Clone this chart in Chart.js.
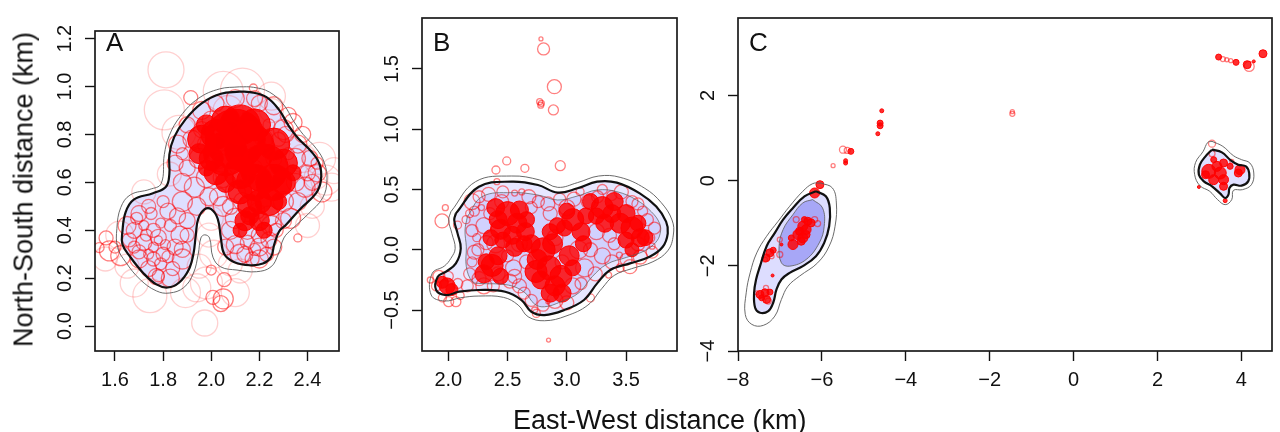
<!DOCTYPE html>
<html>
<head>
<meta charset="utf-8">
<script src="https://cdn.jsdelivr.net/npm/chart.js@4.4.1/dist/chart.umd.min.js"></script>
<style>
  body { margin: 0; background: #fff; }
  #wrap { position: relative; width: 1280px; height: 432px; background: #fff; overflow: hidden; }
  canvas { position: absolute; top: 0; }
  .title { position: absolute; font-family: "Liberation Sans", Arial, sans-serif; font-size: 27px; line-height: 27px; color: #111; white-space: nowrap; }
</style>
</head>
<body>
<div id="wrap">
  <canvas id="cA" width="370" height="432" style="left:0px"></canvas>
  <canvas id="cB" width="320" height="432" style="left:370px"></canvas>
  <canvas id="cC" width="590" height="432" style="left:690px"></canvas>
  <div class="title" id="xTitle" style="left:513px; top:407px;">East-West distance (km)</div>
  <div class="title" id="yTitle" style="left:-176px; top:176px; width:400px; text-align:center; transform:rotate(-90deg);">North-South distance (km)</div>
</div>
<script>
// ---- axis ticks ----
const aXTicks = [1.6, 1.8, 2.0, 2.2, 2.4];
const aYTicks = [0.0, 0.2, 0.4, 0.6, 0.8, 1.0, 1.2];
const bXTicks = [2.0, 2.5, 3.0, 3.5];
const bYTicks = [-0.5, 0.0, 0.5, 1.0, 1.5];
const cXTicks = [-8, -6, -4, -2, 0, 2, 4];
const cYTicks = [-4, -2, 0, 2];

// ---- panel A: open rings [x, y, r] and dense core ----
const aRings = [
  [1.812,1.070,18],[1.805,0.903,20],[1.915,0.954,7],[2.175,0.994,4],[2.130,0.985,22],
  [2.360,0.368,4],[1.534,0.328,5],[1.973,0.013,13],[2.040,0.094,8],[2.007,0.120,7],
  [2.050,0.114,10],[2.054,0.194,7],[2.000,0.234,5],[1.893,0.140,15],[1.745,0.127,17],
  [1.772,0.207,8],[2.510,0.649,13],[2.477,0.609,15],[2.436,0.622,12],[1.577,0.314,10],
  [1.563,0.368,7],[1.624,0.294,10],[1.826,0.635,12],[1.866,0.809,17],[2.070,0.900,15],
  [2.250,0.900,12],[2.300,0.820,10],[2.380,0.700,14],[2.420,0.500,12],[2.330,0.450,10],
  [2.260,0.330,8],[2.200,0.280,9],[2.120,0.300,10],[2.080,0.260,12],[2.010,0.300,14],
  [1.950,0.250,12],[1.880,0.280,10],[1.830,0.200,9],[1.700,0.280,9],[1.650,0.420,9],
  [1.700,0.470,8],[1.750,0.470,6],[1.820,0.480,8],[1.880,0.520,10],[1.900,0.440,8],
  [1.870,0.380,9],[1.760,0.400,7],[1.720,0.350,8],[1.800,0.300,7],[1.790,0.260,6],
  [1.850,0.330,8],[1.680,0.330,6],[1.600,0.330,6],[1.950,0.700,10],[1.900,0.660,8],
  [1.880,0.720,6],[1.920,0.780,9],[1.980,0.620,10],[1.990,0.540,9],[2.050,0.500,10],
  [2.100,0.450,10],[2.150,0.400,9],[2.200,0.380,8],[2.250,0.420,10],[2.300,0.520,10],
  [2.350,0.600,9],[2.400,0.640,8],[2.440,0.680,6],[2.380,0.800,8],[2.340,0.850,9],
  [2.200,0.930,8],[2.000,0.860,9],[1.960,0.820,8],[2.030,0.760,8],[2.150,0.350,7],
  [2.180,0.320,6],[2.100,0.560,10],[2.050,0.620,10],[2.000,0.450,12],[1.990,0.380,12],
  [2.120,0.230,12],[1.940,0.160,14],[1.650,0.250,12],[1.620,0.380,14],[2.460,0.560,10],
  [1.760,0.330,5],[1.780,0.360,4],[1.810,0.340,5],[1.740,0.300,5],[1.830,0.420,6],
  [1.720,0.420,5],[1.790,0.430,5],[2.320,0.720,6],[2.280,0.780,7],[2.240,0.840,6],
  [1.960,0.900,9],[2.020,0.930,8],[2.100,0.950,9],[2.180,0.950,8],[2.260,0.920,9],
  [2.320,0.880,8],[1.900,0.840,8],[1.860,0.760,9],[1.850,0.680,8],[1.880,0.600,9],
  [1.930,0.580,10],[1.940,0.500,9],[2.030,0.540,9],[2.080,0.500,8],[2.130,0.520,9],
  [2.190,0.480,8],[2.240,0.460,10],[2.300,0.440,8],[2.360,0.520,9],[2.390,0.580,10],
  [2.420,0.600,8],[2.440,0.640,9],[2.410,0.700,8],[2.360,0.760,9],[2.310,0.800,8],
  [2.350,0.700,10],[2.080,0.400,9],[2.100,0.340,9],[2.140,0.300,8],[2.200,0.330,9],
  [2.240,0.360,8],[2.270,0.400,7],[2.060,0.330,8],[2.170,0.280,7],[2.230,0.300,7],
  [1.680,0.400,8],[1.660,0.360,7],[1.700,0.310,7],[1.740,0.240,8],[1.780,0.210,6],
  [1.840,0.240,7],[1.880,0.320,8],[1.900,0.380,7],[1.860,0.460,8],[1.800,0.520,6],
  [1.740,0.500,7],[1.690,0.450,6],[1.780,0.370,8],[1.730,0.380,6],[1.820,0.290,6],
  [1.760,0.280,7],[1.980,0.760,9],[2.000,0.820,8],[2.040,0.680,9],[2.120,0.620,8],
  [2.180,0.660,8],[2.260,0.700,8],[2.220,0.780,9],[2.160,0.820,8],[2.080,0.820,9],
  [2.500,0.580,14],[2.450,0.700,16],[2.050,0.980,20],[2.250,0.960,14],[1.980,0.180,16],
  [2.100,0.140,14],[1.680,0.180,14],[1.560,0.280,12],[1.720,0.560,12],[2.400,0.420,12]
];
const aCore = [
  [2.100,0.780,30],[2.060,0.720,22],[2.160,0.740,25],[2.120,0.840,20],[2.020,0.800,15],
  [2.220,0.660,24],[2.260,0.600,18],[2.180,0.600,18],[2.300,0.680,14],[2.240,0.520,14],
  [2.160,0.500,12],[2.200,0.440,10],[2.140,0.440,10],[2.000,0.700,12],[1.980,0.660,8],
  [2.340,0.640,8],[2.060,0.600,10],[1.960,0.780,14],[1.980,0.840,10],[2.060,0.860,14],
  [2.180,0.840,16],[2.260,0.760,16],[2.300,0.600,12],[2.120,0.640,16],[2.020,0.640,12],
  [1.950,0.720,10],[2.200,0.520,12],[2.120,0.560,12],[2.280,0.520,8],[2.160,0.460,9],
  [2.220,0.400,8],[2.120,0.400,7]
];
const aBlack = [
  [2.118,0.979],[2.040,0.970],[1.960,0.930],[1.893,0.863],[1.846,0.789],[1.826,0.716],
  [1.826,0.635],[1.812,0.582],[1.758,0.555],[1.678,0.528],[1.644,0.475],[1.631,0.395],
  [1.631,0.341],[1.664,0.288],[1.718,0.221],[1.772,0.174],[1.819,0.161],[1.866,0.181],
  [1.906,0.234],[1.926,0.301],[1.936,0.381],[1.946,0.448],[1.973,0.488],[2.000,0.488],
  [2.027,0.448],[2.040,0.368],[2.054,0.301],[2.094,0.268],[2.161,0.254],[2.215,0.261],
  [2.248,0.288],[2.262,0.341],[2.282,0.395],[2.309,0.421],[2.369,0.488],[2.436,0.555],
  [2.456,0.609],[2.450,0.676],[2.416,0.729],[2.362,0.783],[2.322,0.836],[2.282,0.903],
  [2.228,0.957],[2.161,0.977],[2.118,0.979]
];
const aGray = [
  [2.118,0.999],[2.034,0.990],[1.946,0.950],[1.872,0.876],[1.826,0.796],[1.805,0.716],
  [1.792,0.595],[1.745,0.571],[1.664,0.548],[1.624,0.495],[1.608,0.408],[1.611,0.328],
  [1.644,0.268],[1.705,0.194],[1.772,0.147],[1.826,0.138],[1.886,0.161],[1.926,0.221],
  [1.946,0.301],[1.957,0.368],[1.973,0.381],[1.993,0.368],[2.007,0.288],[2.040,0.247],
  [2.107,0.234],[2.188,0.227],[2.248,0.247],[2.279,0.301],[2.302,0.368],[2.336,0.405],
  [2.403,0.468],[2.463,0.535],[2.481,0.609],[2.470,0.682],[2.436,0.742],[2.383,0.799],
  [2.342,0.856],[2.302,0.923],[2.242,0.977],[2.175,0.997],[2.118,0.999]
];

// ---- panel B ----
const bRings = [
  [2.782,1.749,2],[2.804,1.666,6],[2.895,1.353,7],[2.771,1.229,3],[2.785,1.215,3],
  [2.780,1.200,3],[2.887,1.160,5],[2.945,0.698,5],[2.493,0.737,4],[2.402,0.662,4],
  [2.646,0.676,4],[2.410,0.565,3],[1.975,0.349,3],[1.947,0.239,7],[2.078,0.205,4],
  [1.848,-0.251,3],[2.846,-0.749,2],[3.353,-0.210,3],[3.533,-0.140,7],[3.444,-0.044,3],
  [3.112,0.482,4],[2.743,-0.528,4],[2.729,-0.500,3],[2.840,-0.431,2],[2.003,-0.431,5],
  [2.064,-0.431,5],[2.620,0.480,3],[2.560,0.470,3],[2.180,0.300,4],[2.220,0.320,5],
  [2.300,0.200,8],[2.240,0.100,4],[2.250,0.000,6],[2.200,-0.100,5],[2.300,-0.300,8],
  [2.420,-0.200,7],[2.550,-0.150,8],[2.600,-0.300,7],[2.700,-0.420,6],[2.900,-0.420,8],
  [3.050,-0.300,8],[3.150,-0.150,9],[3.300,-0.050,8],[3.400,0.050,6],[3.600,0.050,7],
  [3.700,0.100,5],[3.680,0.250,6],[3.640,0.320,5],[3.550,0.400,6],[3.300,0.500,5],
  [3.380,0.450,5],[3.180,0.400,7],[3.000,0.350,8],[2.860,0.300,7],[2.700,0.350,6],
  [2.450,0.400,7],[2.400,0.050,9],[2.600,0.050,8],[2.900,0.100,8],[3.100,0.000,9],
  [2.500,-0.050,6],[3.250,0.150,8],[2.350,0.300,6],[1.900,-0.300,5],[1.950,-0.400,4],
  [2.100,-0.380,4],[3.450,-0.150,4],[3.720,0.030,3],[2.150,0.250,4],[2.280,0.350,3],
  [3.200,-0.400,4],[2.200,0.400,8],[2.260,0.440,6],[2.340,0.460,7],[2.460,0.480,6],
  [2.680,0.440,7],[2.760,0.400,6],[2.840,0.380,7],[2.940,0.420,6],[3.060,0.420,7],
  [3.260,0.440,6],[3.460,0.480,7],[3.600,0.380,6],[3.740,0.180,6],[3.720,-0.020,6],
  [3.620,-0.060,7],[3.500,-0.080,6],[3.380,-0.100,7],[3.240,-0.200,7],[3.120,-0.280,6],
  [3.000,-0.440,7],[2.800,-0.460,6],[2.640,-0.360,6],[2.520,-0.260,7],[2.380,-0.300,6],
  [2.260,-0.240,7],[2.180,-0.200,6],[2.220,-0.020,7],[2.200,0.160,6],[2.320,0.060,7],
  [2.160,-0.300,6],[2.080,-0.280,5],[1.920,-0.220,6],[2.000,-0.220,5],[3.200,0.000,7],
  [3.360,0.120,7],[2.960,-0.100,7],[2.660,-0.100,7],[2.560,-0.220,7]
];
const bCore = [
  [2.500,0.300,12],[2.420,0.250,9],[2.580,0.220,10],[2.540,0.120,9],[2.460,0.080,8],
  [2.650,0.150,9],[2.370,-0.130,11],[2.320,-0.100,8],[2.800,0.000,12],[2.750,-0.080,10],
  [2.880,0.050,10],[2.850,-0.150,12],[2.950,-0.220,11],[2.900,-0.300,10],[2.780,-0.250,9],
  [3.050,-0.150,8],[3.050,0.250,11],[3.120,0.150,9],[2.980,0.180,8],[3.300,0.350,11],
  [3.250,0.280,8],[3.380,0.300,9],[3.450,0.220,10],[3.550,0.180,11],[3.620,0.100,9],
  [3.500,0.080,8],[1.990,-0.300,8],[1.950,-0.270,6],[2.030,-0.330,6],
  [2.400,0.350,9],[2.600,0.330,9],[2.660,0.250,8],[2.440,0.170,10],[2.360,0.100,8],
  [2.560,0.020,9],[2.640,0.050,8],[2.420,-0.050,9],[2.300,-0.200,9],[2.440,-0.220,8],
  [2.700,0.050,9],[2.740,-0.180,11],[2.860,-0.360,9],[2.960,-0.360,9],[3.020,-0.050,10],
  [2.920,0.200,8],[3.000,0.320,8],[3.160,0.280,8],[3.140,0.050,8],[3.200,0.400,8],
  [3.320,0.220,9],[3.400,0.400,9],[3.500,0.300,9],[3.600,0.220,8],[3.660,0.100,8],
  [3.550,0.000,7],[2.860,0.150,8]
];
const bBlack = [
  [2.064,0.302],[2.258,0.523],[2.535,0.565],[2.757,0.537],[2.923,0.474],[3.090,0.510],
  [3.256,0.565],[3.422,0.557],[3.616,0.468],[3.755,0.358],[3.838,0.233],[3.852,0.136],
  [3.810,0.025],[3.699,-0.058],[3.533,-0.113],[3.367,-0.168],[3.256,-0.279],[3.145,-0.417],
  [2.979,-0.500],[2.812,-0.542],[2.701,-0.514],[2.618,-0.417],[2.480,-0.348],[2.258,-0.334],
  [2.091,-0.348],[1.981,-0.376],[1.897,-0.334],[1.911,-0.224],[1.981,-0.182],[2.064,-0.113],
  [2.105,0.011],[2.078,0.136],[2.050,0.247],[2.064,0.302]
];
const bGrayOut = [
  [2.022,0.316],[2.230,0.565],[2.535,0.612],[2.771,0.579],[2.923,0.518],[3.090,0.557],
  [3.270,0.612],[3.450,0.601],[3.658,0.510],[3.797,0.391],[3.888,0.247],[3.899,0.122],
  [3.852,-0.008],[3.727,-0.099],[3.547,-0.157],[3.400,-0.213],[3.297,-0.320],[3.178,-0.459],
  [2.993,-0.550],[2.812,-0.589],[2.674,-0.556],[2.590,-0.459],[2.466,-0.395],[2.258,-0.384],
  [2.105,-0.398],[1.967,-0.425],[1.856,-0.376],[1.864,-0.196],[1.967,-0.135],[2.022,-0.071],
  [2.058,0.011],[2.030,0.136],[2.003,0.247],[2.022,0.316]
];
const bGrayIn = [
  [2.161,0.275],[2.286,0.441],[2.535,0.474],[2.757,0.454],[2.923,0.413],[3.090,0.446],
  [3.256,0.496],[3.422,0.482],[3.589,0.413],[3.713,0.316],[3.783,0.219],[3.788,0.136],
  [3.749,0.059],[3.658,-0.008],[3.505,-0.063],[3.339,-0.119],[3.214,-0.224],[3.103,-0.356],
  [2.951,-0.431],[2.812,-0.473],[2.729,-0.451],[2.646,-0.356],[2.507,-0.293],[2.258,-0.279],
  [2.202,-0.265],[2.152,-0.141],[2.152,0.025],[2.141,0.162],[2.161,0.275]
];

// ---- panel C ----
const cRings = [
  [-5.733,0.352,2],[-5.498,0.727,3.5],[-5.396,0.711,3],[-6.612,-0.914,3],[-6.173,-0.914,3],
  [-6.102,-1.008,3],[-7.004,-1.383,2.5],[-7.357,-1.852,2.5],[-7.200,-1.773,2.5],[-7.004,-1.734,3],
  [-7.278,-2.828,3],[-7.333,-2.516,2.5],[-7.553,-2.633,2],[-1.460,1.620,2],[-1.460,1.570,2.5],
  [3.558,2.856,2.5],[3.652,2.840,2],[3.747,2.817,2],[4.186,2.683,5],[3.300,0.869,3.5],
  [3.300,0.634,3],[3.770,0.454,2]
];
const cCore = [
  [-6.047,-0.094,4],[-6.173,-0.289,5],[-5.435,0.469,2],[-5.435,0.414,2],[-5.310,0.688,3],
  [-4.667,1.102,2],[-4.612,1.352,3],[-4.612,1.289,3],[-4.573,1.641,2],[-6.455,-1.070,5],
  [-6.376,-1.148,5],[-6.533,-1.188,4],[-6.573,-1.266,5],[-6.455,-1.344,5],[-6.494,-1.422,4],
  [-6.376,-1.266,4],[-6.729,-1.344,3],[-6.690,-1.500,5],[-6.337,-0.953,4],[-6.259,-0.992,4],
  [-6.416,-0.914,3],[-6.965,-1.500,1.5],[-7.333,-1.813,4],[-7.239,-1.695,4],[-7.161,-1.633,3],
  [-7.176,-2.227,1.5],[-7.475,-2.672,4],[-7.357,-2.633,4],[-7.239,-2.617,3],[-7.318,-2.789,4],
  [-7.435,-2.750,3],[4.515,2.981,4],[3.457,2.903,3],[3.873,2.778,3],[4.139,2.723,4],
  [4.296,2.801,1.5],[3.222,0.219,7],[3.417,0.336,5],[3.575,0.415,4],[3.340,0.023,5],
  [3.575,0.023,5],[3.497,0.180,6],[3.145,0.141,4],[3.967,0.258,5],[3.927,0.180,4],
  [3.340,0.493,3],[3.575,-0.133,4],[3.614,-0.469,2],[2.987,-0.148,1.5],[3.732,0.336,3]
];
const cLeftBlack = [
  [-6.141,-0.250],[-5.906,-0.367],[-5.812,-0.641],[-5.827,-1.070],[-5.945,-1.461],[-6.141,-1.773],
  [-6.455,-2.008],[-6.769,-2.164],[-6.965,-2.320],[-7.082,-2.555],[-7.161,-2.867],[-7.278,-3.063],
  [-7.475,-3.102],[-7.592,-2.984],[-7.616,-2.633],[-7.569,-2.320],[-7.475,-2.008],[-7.318,-1.539],
  [-7.122,-1.227],[-6.925,-0.914],[-6.690,-0.641],[-6.416,-0.367],[-6.141,-0.250]
];
const cLeftGrayOut = [
  [-6.024,-0.055],[-5.749,-0.172],[-5.655,-0.523],[-5.686,-1.070],[-5.827,-1.539],[-6.102,-1.930],
  [-6.533,-2.242],[-6.808,-2.477],[-6.965,-2.789],[-7.122,-3.180],[-7.396,-3.398],[-7.671,-3.375],
  [-7.827,-3.141],[-7.804,-2.633],[-7.710,-2.164],[-7.553,-1.695],[-7.318,-1.305],[-7.043,-0.953],
  [-6.769,-0.602],[-6.455,-0.250],[-6.220,-0.070],[-6.024,-0.055]
];
const cLeftGrayIn = [
  [-6.220,-0.445],[-5.984,-0.641],[-5.945,-1.070],[-6.063,-1.461],[-6.376,-1.852],[-6.769,-2.008],
  [-6.965,-1.930],[-7.020,-1.539],[-6.925,-1.148],[-6.690,-0.797],[-6.455,-0.523],[-6.220,-0.445]
];
const cRightBlack = [
  [3.300,0.728],[3.535,0.665],[3.747,0.477],[3.927,0.376],[4.108,0.336],[4.186,0.180],
  [4.162,-0.016],[4.005,-0.117],[3.810,-0.094],[3.716,-0.172],[3.692,-0.329],[3.614,-0.407],
  [3.497,-0.305],[3.300,-0.133],[3.105,-0.016],[2.987,0.141],[3.011,0.376],[3.145,0.571],
  [3.300,0.728]
];
const cRightGray = [
  [3.300,0.923],[3.558,0.806],[3.810,0.587],[4.005,0.493],[4.202,0.415],[4.296,0.180],
  [4.240,-0.094],[4.028,-0.211],[3.810,-0.227],[3.770,-0.446],[3.614,-0.563],[3.434,-0.446],
  [3.246,-0.250],[3.011,-0.117],[2.886,0.141],[2.909,0.430],[3.089,0.688],[3.199,0.899],
  [3.300,0.923]
];

const FONT = '"Liberation Sans", Arial, sans-serif';

function fmt(v, d) {
  var s = Math.abs(v).toFixed(d);
  return v < -1e-9 ? '\u2212' + s : s;
}

function toXY(list) {
  return list.map(p => ({x: p[0], y: p[1]}));
}
function toXYR(list) {
  return list.map(p => ({x: p[0], y: p[1], r: p[2]}));
}

function shape(list, color, order) {
  return {type: 'line', data: toXY(list), fill: 'shape', backgroundColor: color,
    borderWidth: 0, pointRadius: 0, tension: 0.4, order: order};
}
function contour(list, color, width, order) {
  return {type: 'line', data: toXY(list), fill: false, borderColor: color,
    borderWidth: width, pointRadius: 0, tension: 0.4, order: order};
}
function rings(list) {
  return {type: 'bubble', data: toXYR(list), clip: 0, order: 6,
    backgroundColor: 'rgba(0,0,0,0)', borderWidth: 1.3,
    borderColor: ctx => (ctx.raw && ctx.raw.r > 11) ? 'rgba(255,40,40,0.22)' : 'rgba(255,0,0,0.5)'};
}
function core(list) {
  return {type: 'bubble', data: toXYR(list), clip: 0, order: 5,
    backgroundColor: 'rgba(255,0,0,0.82)', borderColor: 'rgba(255,0,0,0.95)', borderWidth: 1};
}

// frame box, panel letter, rotated y tick labels
const framePlugin = {
  id: 'panelFrame',
  afterDraw(chart, args, opts) {
    var ctx = chart.ctx, a = chart.chartArea, ys = chart.scales.y;
    ctx.save();
    ctx.strokeStyle = '#1a1a1a';
    ctx.lineWidth = 1.7;
    ctx.strokeRect(a.left, a.top, a.right - a.left, a.bottom - a.top);
    ctx.fillStyle = '#111';
    ctx.font = '26px ' + FONT;
    ctx.textAlign = 'left';
    ctx.textBaseline = 'alphabetic';
    ctx.fillText(opts.letter, a.left + 11, 51);
    ctx.font = '20px ' + FONT;
    ctx.textAlign = 'center';
    ctx.textBaseline = 'middle';
    ys.ticks.forEach(t => {
      var py = ys.getPixelForValue(t.value);
      ctx.save();
      ctx.translate(a.left - 30, py);
      ctx.rotate(-Math.PI / 2);
      ctx.fillText(fmt(t.value, opts.yDec), 0, 0);
      ctx.restore();
    });
    ctx.restore();
  }
};

function makeChart(id, o) {
  return new Chart(document.getElementById(id), {
    type: 'bubble',
    data: {datasets: o.datasets},
    options: {
      responsive: false,
      animation: false,
      devicePixelRatio: 1,
      events: [],
      layout: {padding: {top: 18, right: o.padRight, left: 0, bottom: 0}},
      plugins: {
        legend: {display: false},
        tooltip: {enabled: false},
        panelFrame: {letter: o.letter, yDec: o.yDec}
      },
      scales: {
        x: {
          type: 'linear', min: o.xMin, max: o.xMax,
          afterFit: s => { s.height = 81; },
          afterBuildTicks: s => { s.ticks = o.xTicks.map(v => ({value: v})); },
          grid: {drawOnChartArea: false, drawTicks: true, tickLength: 10, tickColor: '#111', tickWidth: 1.4},
          border: {display: false},
          ticks: {color: '#111', font: {family: FONT, size: 20}, padding: 7, maxRotation: 0,
            autoSkip: false, callback: v => fmt(v, o.xDec)}
        },
        y: {
          type: 'linear', min: o.yMin, max: o.yMax,
          afterFit: s => { s.width = o.yWidth; },
          afterBuildTicks: s => { s.ticks = o.yTicks.map(v => ({value: v})); },
          grid: {drawOnChartArea: false, drawTicks: true, tickLength: 10, tickColor: '#111', tickWidth: 1.4},
          border: {display: false},
          ticks: {display: false}
        }
      }
    },
    plugins: [framePlugin]
  });
}

makeChart('cA', {
  letter: 'A', xMin: 1.517, xMax: 2.531, yMin: -0.104, yMax: 1.232,
  xTicks: aXTicks, yTicks: aYTicks, xDec: 1, yDec: 1, yWidth: 95, padRight: 10,
  datasets: [
    shape(aBlack, 'rgba(185,185,255,0.45)', 10),
    rings(aRings),
    core(aCore),
    contour(aGray, 'rgba(90,90,90,0.9)', 1, 2),
    contour(aBlack, '#111', 2.2, 1)
  ]
});

makeChart('cB', {
  letter: 'B', xMin: 1.778, xMax: 3.930, yMin: -0.840, yMax: 1.923,
  xTicks: bXTicks, yTicks: bYTicks, xDec: 1, yDec: 1, yWidth: 52, padRight: 9,
  datasets: [
    shape(bBlack, 'rgba(195,195,255,0.4)', 11),
    shape(bGrayIn, 'rgba(130,130,250,0.22)', 10),
    rings(bRings),
    core(bCore),
    contour(bGrayOut, 'rgba(90,90,90,0.9)', 1, 2),
    contour(bGrayIn, 'rgba(90,90,90,0.7)', 1, 2),
    contour(bBlack, '#111', 2.2, 1)
  ]
});

makeChart('cC', {
  letter: 'C', xMin: -8.0, xMax: 4.73, yMin: -4.0, yMax: 3.82,
  xTicks: cXTicks, yTicks: cYTicks, xDec: 0, yDec: 0, yWidth: 48, padRight: 1,
  datasets: [
    shape(cLeftBlack, 'rgba(170,170,255,0.4)', 11),
    shape(cLeftGrayIn, 'rgba(80,80,235,0.38)', 10),
    shape(cRightBlack, 'rgba(185,185,255,0.45)', 10),
    rings(cRings),
    core(cCore),
    contour(cLeftGrayOut, 'rgba(90,90,90,0.9)', 1, 2),
    contour(cLeftGrayIn, 'rgba(90,90,90,0.8)', 1, 2),
    contour(cRightGray, 'rgba(90,90,90,0.9)', 1, 2),
    contour(cLeftBlack, '#111', 2.2, 1),
    contour(cRightBlack, '#111', 2.2, 1)
  ]
});
</script>
</body>
</html>
